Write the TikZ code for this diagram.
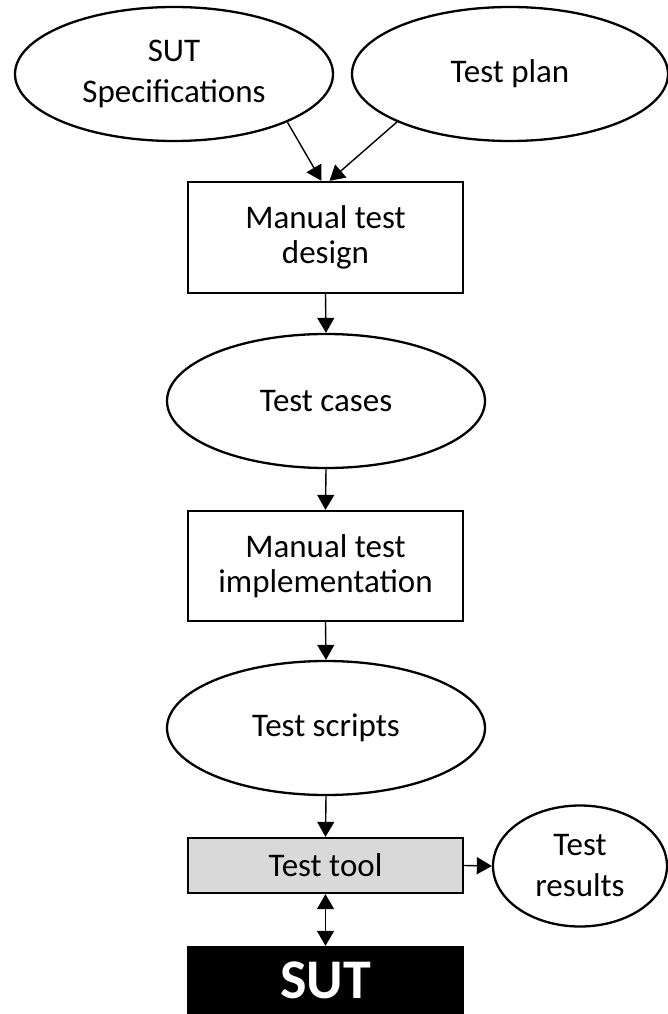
\documentclass[tikz,border=0pt]{standalone}
\usepackage{fontspec}
\setmainfont{Carlito}
\usetikzlibrary{shapes.geometric,arrows.meta}
\begin{document}
\begin{tikzpicture}[x=1pt,y=-1pt,
  lbl/.style={font=\fontsize{33}{35}\selectfont,align=center,text=black},
  ell/.style={lbl,font=\fontsize{33}{41}\selectfont,draw,line width=2.3pt,ellipse,inner sep=0pt,minimum width=318pt,minimum height=134pt},
  stepbox/.style={lbl,draw,line width=2.3pt,rectangle,inner sep=0pt,minimum width=275pt},
  arr/.style={-{Triangle[length=15pt,width=17pt]},line width=1.4pt},
  darr/.style={{Triangle[length=15pt,width=17pt]}-{Triangle[length=15pt,width=17pt]},line width=1.4pt}]
\useasboundingbox (0,0) rectangle (667,1014);
\node[ell] (spec) at (174,74) {SUT\\Specifications};
\node[ell,minimum width=316pt] (plan) at (510,74) {Test plan};
\node[stepbox,minimum height=111pt] (design) at (325.5,237.5) {Manual test\\design};
\node[ell] (cases) at (326,401) {Test cases};
\node[stepbox,minimum height=110pt] (impl) at (325.5,566) {Manual test\\implementation};
\node[ell] (scripts) at (326,728) {Test scripts};
\node[stepbox,fill=black!15,minimum height=55pt] (tool) at (325.5,865.5) {Test tool};
\node[ell,minimum width=174pt,minimum height=121pt] (results) at (580,866) {Test\\results};
\node[stepbox,fill=black,minimum height=67pt,text=white,font=\fontsize{56}{60}\selectfont\bfseries] (sut) at (325.5,980.5) {SUT};
\draw[arr] (spec.-23) -- ([xshift=-4pt]design.north);
\draw[arr] (plan.-157) -- ([xshift=4pt]design.north);
\draw[arr] (design.south) -- (cases.north);
\draw[arr] (cases.south) -- (impl.north);
\draw[arr] (impl.south) -- (scripts.north);
\draw[arr] (scripts.south) -- (tool.north);
\draw[arr] (tool.east) -- (results.west);
\draw[darr] (tool.south) -- (sut.north);
\end{tikzpicture}
\end{document}
